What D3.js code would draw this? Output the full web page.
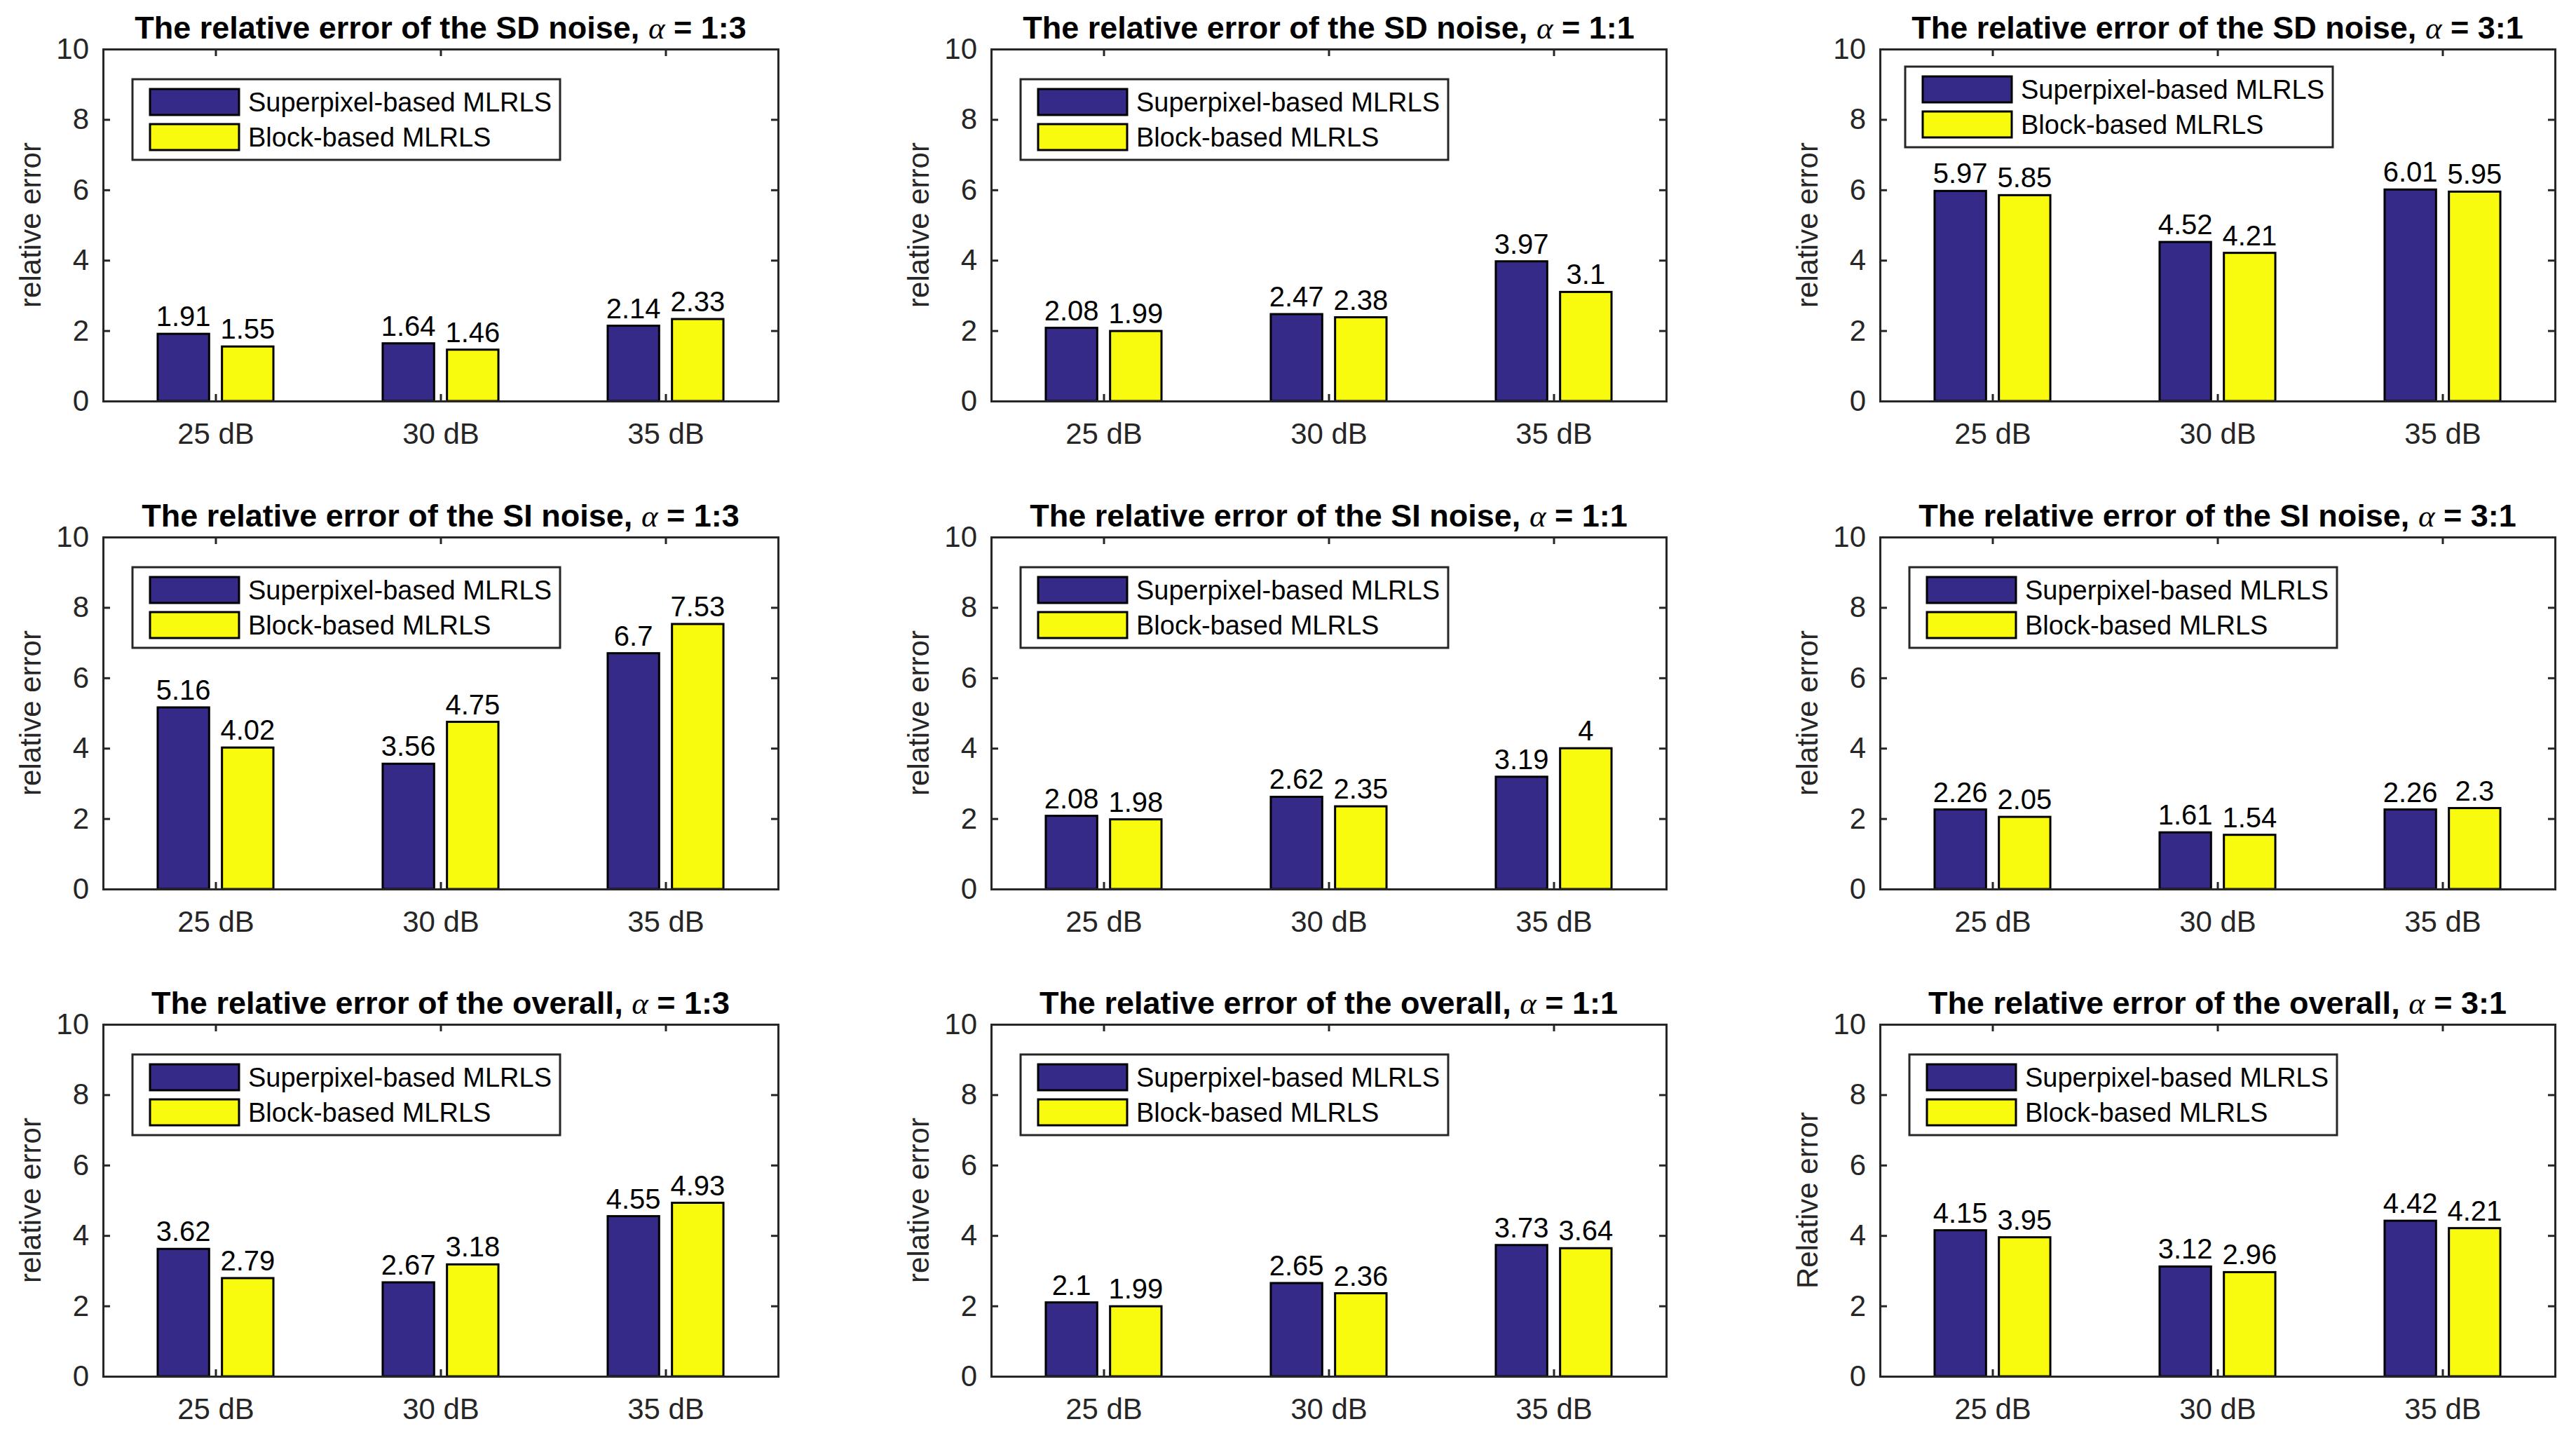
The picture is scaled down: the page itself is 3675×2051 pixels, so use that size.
<!DOCTYPE html>
<html>
<head>
<meta charset="utf-8">
<script src="https://cdn.jsdelivr.net/npm/d3@7"></script>
<style>
  html, body { margin: 0; padding: 0; background: #fff; }
  svg text { font-family: "Liberation Sans", Arial, sans-serif; }
</style>
</head>
<body>
<svg id="chart" width="3675" height="2051"></svg>
<script>
// data
const categories = ["25 dB", "30 dB", "35 dB"];
const seriesNames = ["Superpixel-based MLRLS", "Block-based MLRLS"];
const rowNames = ["SD noise", "SI noise", "overall"];
const alphaRatios = ["1:3", "1:1", "3:1"];
const yTicks = [0, 2, 4, 6, 8, 10];

// one entry per alpha ratio (1:3, 1:1, 3:1)
const sdSuperpixel = [[1.91, 1.64, 2.14], [2.08, 2.47, 3.97], [5.97, 4.52, 6.01]];
const sdBlock      = [[1.55, 1.46, 2.33], [1.99, 2.38, 3.1],  [5.85, 4.21, 5.95]];
const siSuperpixel = [[5.16, 3.56, 6.7],  [2.08, 2.62, 3.19], [2.26, 1.61, 2.26]];
const siBlock      = [[4.02, 4.75, 7.53], [1.98, 2.35, 4],    [2.05, 1.54, 2.3]];
const allSuperpixel = [[3.62, 2.67, 4.55], [2.1, 2.65, 3.73], [4.15, 3.12, 4.42]];
const allBlock      = [[2.79, 3.18, 4.93], [1.99, 2.36, 3.64], [3.95, 2.96, 4.21]];

const yLabels = [
  ["relative error", "relative error", "relative error"],
  ["relative error", "relative error", "relative error"],
  ["relative error", "relative error", "Relative error"]
];

const superpixelRows = [sdSuperpixel, siSuperpixel, allSuperpixel];
const blockRows = [sdBlock, siBlock, allBlock];

// layout
const colLeft = [147, 1414, 2682];
const rowTop = [70, 766, 1461];
const plotW = 963, plotH = 502;
const colors = ["#352a87", "#f9fb0e"];
const axisColor = "#262626";

const svg = d3.select("#chart");
svg.append("rect").attr("width", 3675).attr("height", 2051).attr("fill", "#fff");

rowNames.forEach((rowName, r) => {
  alphaRatios.forEach((ratio, c) => {
    const left = colLeft[c], top = rowTop[r];
    const g = svg.append("g").attr("transform", `translate(${left},${top})`);

    const x = d3.scaleLinear().domain([0.5, 3.5]).range([0, plotW]);
    const y = d3.scaleLinear().domain([0, 10]).range([plotH, 0]);

    // matlab grouped bar geometry
    const groupWidth = 2 / 3.5;
    const offsets = [-groupWidth / 4, groupWidth / 4];
    const barW = x(groupWidth / 2 * 0.8) - x(0);

    const series = [superpixelRows[r][c], blockRows[r][c]];

    series.forEach((vals, s) => {
      g.selectAll(null)
        .data(vals)
        .enter()
        .append("rect")
        .attr("x", (d, i) => x(i + 1 + offsets[s]) - barW / 2)
        .attr("y", d => y(d))
        .attr("width", barW)
        .attr("height", d => y(0) - y(d))
        .attr("fill", colors[s])
        .attr("stroke", "#000")
        .attr("stroke-width", 3);

      g.selectAll(null)
        .data(vals)
        .enter()
        .append("text")
        .attr("x", (d, i) => x(i + 1 + offsets[s]))
        .attr("y", d => y(d) - 11)
        .attr("text-anchor", "middle")
        .attr("font-size", "40px")
        .attr("fill", "#000")
        .text(d => d);
    });

    // axes box with inward ticks
    const styleAxis = sel => {
      sel.select(".domain").attr("stroke", axisColor).attr("stroke-width", 3).attr("stroke-linecap", "square");
      sel.selectAll(".tick line").attr("stroke", axisColor).attr("stroke-width", 3);
      sel.selectAll(".tick text").attr("fill", axisColor).attr("font-size", "42px")
        .attr("font-family", "Liberation Sans, Arial, sans-serif");
    };

    g.append("g")
      .call(d3.axisLeft(y).tickValues(yTicks).tickSize(-10).tickSizeOuter(0).tickPadding(20))
      .call(styleAxis);
    g.append("g")
      .attr("transform", `translate(${plotW},0)`)
      .call(d3.axisRight(y).tickValues(yTicks).tickSize(-10).tickSizeOuter(0).tickFormat(""))
      .call(styleAxis);
    g.append("g")
      .call(d3.axisTop(x).tickValues([1, 2, 3]).tickSize(-10).tickSizeOuter(0).tickFormat(""))
      .call(styleAxis);
    g.append("g")
      .attr("transform", `translate(0,${plotH})`)
      .call(d3.axisBottom(x).tickValues([1, 2, 3]).tickSize(-10).tickSizeOuter(0).tickPadding(31)
        .tickFormat(i => categories[i - 1]))
      .call(styleAxis);

    // title
    const title = g.append("text")
      .attr("x", plotW / 2)
      .attr("y", -15)
      .attr("text-anchor", "middle")
      .attr("font-size", "45px")
      .attr("font-weight", "bold")
      .attr("fill", "#000");
    title.append("tspan").text(`The relative error of the ${rowName}, `);
    title.append("tspan")
      .attr("font-family", "Liberation Serif, Times New Roman, serif")
      .attr("font-style", "italic")
      .attr("font-weight", "normal")
      .text("\u03b1");
    title.append("tspan").text(` = ${ratio}`);

    // y label
    g.append("text")
      .attr("transform", `translate(-89,${plotH / 2}) rotate(-90)`)
      .attr("text-anchor", "middle")
      .attr("font-size", "42px")
      .attr("fill", axisColor)
      .text(yLabels[r][c]);

    // legend
    const lx = (r === 0 && c === 2) ? 36 : 42;
    const ly = (r === 0 && c === 2) ? 25 : 43;
    const leg = g.append("g").attr("transform", `translate(${lx},${ly})`);
    leg.append("rect")
      .attr("width", 610).attr("height", 115)
      .attr("fill", "#fff").attr("stroke", axisColor).attr("stroke-width", 3);
    seriesNames.forEach((name, s) => {
      leg.append("rect")
        .attr("x", 25).attr("y", 14 + s * 50)
        .attr("width", 127).attr("height", 37)
        .attr("fill", colors[s]).attr("stroke", "#000").attr("stroke-width", 3);
      leg.append("text")
        .attr("x", 165).attr("y", 14 + s * 50 + 18.5 + 13)
        .attr("font-size", "38px")
        .attr("fill", "#000")
        .text(name);
    });
  });
});
</script>
</body>
</html>
